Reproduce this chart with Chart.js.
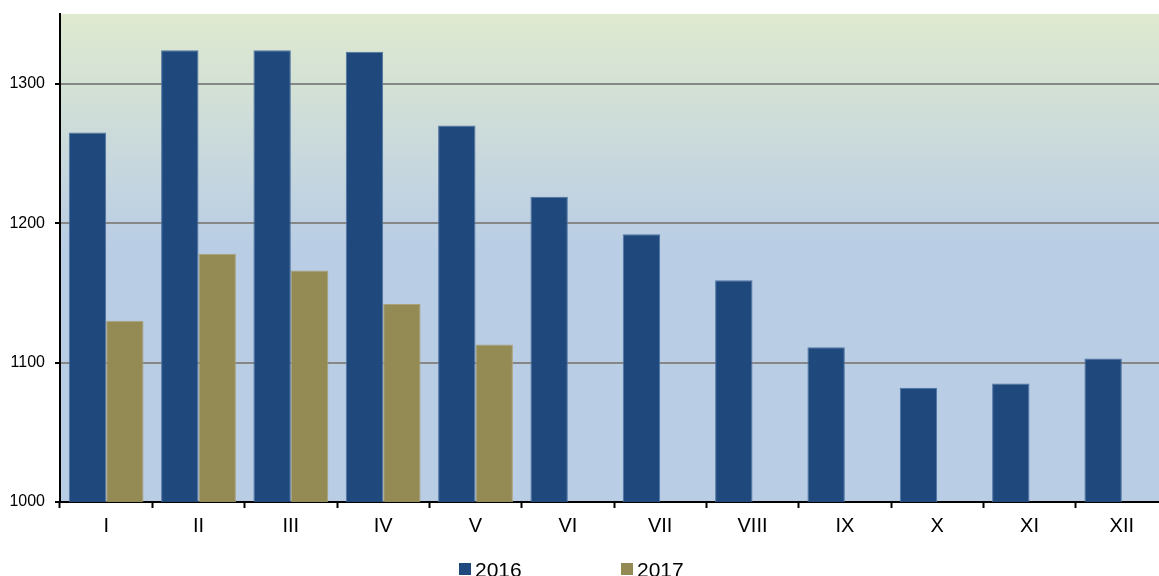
<!DOCTYPE html>
<html>
<head>
<meta charset="utf-8">
<script src="https://cdn.jsdelivr.net/npm/chart.js@4/dist/chart.umd.min.js"></script>
<style>
  html, body { margin: 0; padding: 0; background: #fff; overflow: hidden; }
  #wrap { width: 1170px; height: 576px; }
</style>
</head>
<body>
<div id="wrap"><canvas id="c" width="1170" height="576"></canvas></div>
<script>
const months = ["I", "II", "III", "IV", "V", "VI", "VII", "VIII", "IX", "X", "XI", "XII"]
const values2016 = [1265, 1324, 1324, 1323, 1270, 1219, 1192, 1159, 1111, 1082, 1085, 1103]
const values2017 = [1130, 1178, 1166, 1142, 1113, null, null, null, null, null, null, null]
const yTicks = [1000, 1100, 1200, 1300]

const font = "'Liberation Sans', Arial, sans-serif"

const plotBackground = {
  id: "plotBackground",
  beforeDraw(chart) {
    const { ctx, chartArea: a } = chart
    const g = ctx.createLinearGradient(0, a.top, 0, a.bottom)
    g.addColorStop(0, "#dfeacf")
    g.addColorStop(0.48, "#b9cde5")
    g.addColorStop(1, "#b9cde5")
    ctx.save()
    ctx.fillStyle = g
    ctx.fillRect(a.left, a.top, a.right - a.left, a.bottom - a.top)
    ctx.restore()
  }
}

// legend sits low, partly cut by the bottom edge like the original
const bottomLegend = {
  id: "bottomLegend",
  afterDraw(chart) {
    const { ctx } = chart
    const xs = [459, 621]
    ctx.save()
    ctx.font = "21px " + font
    ctx.textBaseline = "alphabetic"
    chart.data.datasets.forEach((ds, i) => {
      ctx.fillStyle = ds.backgroundColor
      ctx.fillRect(xs[i], 563, 12, 12)
      ctx.fillStyle = "#000"
      ctx.fillText(ds.label, xs[i] + 16, 577)
    })
    ctx.restore()
  }
}

new Chart(document.getElementById("c"), {
  type: "bar",
  data: {
    labels: months,
    datasets: [
      {
        label: "2016",
        data: values2016,
        backgroundColor: "#1f497d",
        borderColor: "#4f73a3",
        borderWidth: 1
      },
      {
        label: "2017",
        data: values2017,
        backgroundColor: "#948a54",
        borderColor: "#aaa277",
        borderWidth: 1
      }
    ]
  },
  plugins: [plotBackground, bottomLegend],
  options: {
    responsive: false,
    animation: false,
    layout: { padding: { top: 14, right: 2, bottom: 44, left: 0 } },
    datasets: { bar: { categoryPercentage: 0.81, barPercentage: 1 } },
    plugins: {
      legend: { display: false },
      tooltip: { enabled: false }
    },
    scales: {
      x: {
        grid: {
          offset: true,
          drawOnChartArea: false,
          tickLength: 6,
          tickWidth: 2,
          tickColor: "#000"
        },
        border: { color: "#000", width: 2 },
        ticks: { font: { family: font, size: 20 }, color: "#000", padding: 6 },
        afterFit(scale) { scale.height = 30 }
      },
      y: {
        min: 1000,
        max: 1350,
        afterBuildTicks(scale) { scale.ticks = yTicks.map(v => ({ value: v })) },
        grid: {
          color: "#878787",
          lineWidth: 2,
          tickColor: "#000",
          tickLength: 5,
          tickWidth: 2
        },
        border: { color: "#000", width: 2 },
        ticks: {
          font: { family: font, size: 16 },
          color: "#000",
          padding: 10,
          callback: v => String(v)
        },
        afterFit(scale) {
          scale.width = 60
          scale.paddingTop = 0
          scale.paddingBottom = 0
        }
      }
    }
  }
})
</script>
</body>
</html>
